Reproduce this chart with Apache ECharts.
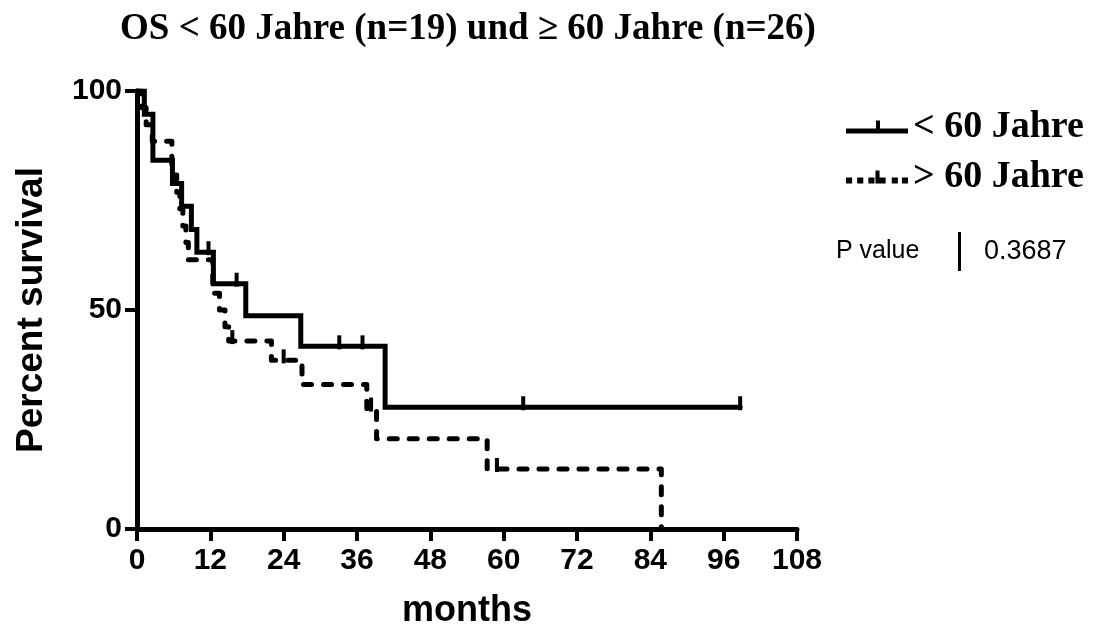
<!DOCTYPE html>
<html>
<head>
<meta charset="utf-8">
<script src="https://cdn.jsdelivr.net/npm/echarts@6/dist/echarts.min.js"></script>
<style>html,body{margin:0;padding:0;background:#fff}#c{width:1096px;height:634px}</style>
</head>
<body>
<div id="c"></div>
<script>
const titleText = 'OS < 60 Jahre (n=19) und \u2265 60 Jahre (n=26)';
const seriesNames = ['< 60 Jahre', '> 60 Jahre'];
const xTicks = [0, 12, 24, 36, 48, 60, 72, 84, 96, 108];
const yTicks = [0, 50, 100];
const pValueLabel = 'P value';
const pValue = '0.3687';

// Kaplan-Meier steps: [months, percent survival after the event]
const under60Steps = [[0,100],[1.2,94.7],[2.6,84.2],[5.8,78.9],[7.3,73.7],[8.9,68.4],[9.8,63.2],[12.5,56.0],[17.8,48.7],[26.8,41.7],[40.6,27.8],[98.7,27.8]];
const under60Censored = [[11.7,63.2],[16.3,56.0],[33.1,41.7],[36.9,41.7],[63.2,27.8],[98.7,27.8]];
const over60Steps = [[0,100],[0.8,96.2],[1.5,92.3],[2.5,88.5],[5.7,80.8],[6.5,76.9],[7.0,73.1],[7.5,69.2],[8.0,65.4],[8.4,61.5],[12.4,53.8],[13.5,50.0],[14.4,46.2],[15.0,42.9],[22.0,38.5],[27.0,33.0],[37.6,27.5],[39.2,20.6],[57.3,13.7],[85.8,0]];
const over60Censored = [[15.6,42.9],[24.0,38.5],[38.3,27.5],[58.9,13.7]];

const chart = echarts.init(document.getElementById('c'), null, {renderer: 'canvas'});
const sansBold = {fontFamily: "'Liberation Sans', Arial, sans-serif", fontWeight: 'bold', color: '#000'};
const censorStyle = {symbol: 'rect', symbolSize: [4, 14], symbolOffset: [0, -4], itemStyle: {color: '#000', opacity: 1}};

chart.setOption({
  animation: false,
  backgroundColor: '#fff',
  title: {
    text: titleText,
    left: 463, top: 6, textAlign: 'center',
    textStyle: {fontFamily: "'Liberation Serif', 'Times New Roman', serif", fontWeight: 'bold', fontSize: 37, color: '#000'}
  },
  legend: {
    orient: 'vertical', left: 841, top: 103, itemGap: 12,
    itemWidth: 62, itemHeight: 14,
    textStyle: {fontFamily: "'Liberation Serif', 'Times New Roman', serif", fontWeight: 'bold', fontSize: 38, color: '#000'},
    data: [
      {name: seriesNames[0], icon: 'path://M0,8h62v5h-62z M30,0h4v13h-4z'},
      {name: seriesNames[1], icon: 'path://M1,7h6v6h-6z M12,7h6v6h-6z M23,7h6v6h-6z M30,0h4v13h-4z M34,7h6v6h-6z M46,7h6v6h-6z M56,7h6v6h-6z'}
    ]
  },
  grid: {left: 137, right: 299, top: 91, bottom: 103, containLabel: false},
  xAxis: {
    type: 'value', min: 0, max: 108, interval: 12,
    name: 'months', nameLocation: 'middle', nameGap: 64,
    nameTextStyle: Object.assign({fontSize: 36}, sansBold),
    axisLine: {show: true, lineStyle: {color: '#000', width: 5}},
    axisTick: {show: true, length: 12, lineStyle: {color: '#000', width: 4}},
    axisLabel: Object.assign({fontSize: 30, margin: 17, formatter: v => xTicks.includes(v) ? String(v) : ''}, sansBold),
    splitLine: {show: false}
  },
  yAxis: {
    type: 'value', min: 0, max: 100, interval: 50,
    name: 'Percent survival', nameLocation: 'middle', nameGap: 87, nameRotate: 90,
    nameTextStyle: Object.assign({fontSize: 37}, sansBold),
    axisLine: {show: true, lineStyle: {color: '#000', width: 5}},
    axisTick: {show: true, length: 12, lineStyle: {color: '#000', width: 4}},
    axisLabel: Object.assign({fontSize: 30, margin: 15, formatter: v => yTicks.includes(v) ? String(v) : ''}, sansBold),
    splitLine: {show: false}
  },
  series: [
    {name: seriesNames[1], type: 'line', step: 'end', data: over60Steps, showSymbol: false, symbol: 'none',
     itemStyle: {color: '#000'}, lineStyle: {color: '#000', width: 5, type: [8, 12], cap: 'round', join: 'round'}, z: 2},
    {name: seriesNames[0], type: 'line', step: 'end', data: under60Steps, showSymbol: false, symbol: 'none',
     itemStyle: {color: '#000'}, lineStyle: {color: '#000', width: 5, type: 'solid', cap: 'round', join: 'miter'}, z: 3},
    Object.assign({name: 'censored <60', type: 'scatter', data: under60Censored, z: 4}, censorStyle),
    Object.assign({name: 'censored >60', type: 'scatter', data: over60Censored, z: 4}, censorStyle)
  ],
  graphic: [
    {type: 'text', left: 836, top: 239, style: {text: pValueLabel, font: "25px 'Liberation Sans', Arial, sans-serif", fill: '#000'}},
    {type: 'rect', shape: {x: 958, y: 232, width: 3, height: 39}, style: {fill: '#000'}},
    {type: 'text', left: 984, top: 238, style: {text: pValue, font: "27px 'Liberation Sans', Arial, sans-serif", fill: '#000'}}
  ]
});
</script>
</body>
</html>
